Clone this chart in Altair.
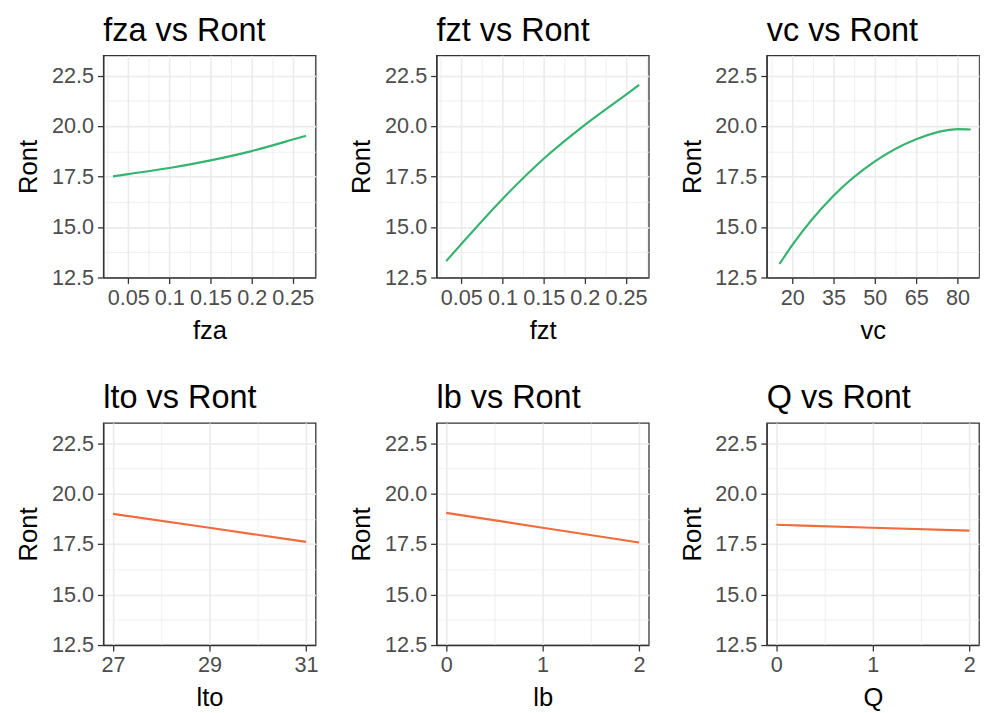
import altair as alt
import pandas as pd

FONT = "Liberation Sans"
GREEN = "#35B36F"
ORANGE = "#F26B3A"

# shared y axis
y_domain = [12.5, 23.5]
y_major = [12.5, 15.0, 17.5, 20.0, 22.5]
y_minor = [13.75, 16.25, 18.75, 21.25]

# panel data
fza_x = [0.0315, 0.05, 0.1, 0.15, 0.2, 0.25, 0.266]
fza_y = [17.51, 17.62, 17.92, 18.30, 18.76, 19.33, 19.52]
fzt_x = [0.0315, 0.05, 0.1, 0.15, 0.2, 0.25, 0.266]
fzt_y = [13.31, 14.16, 16.39, 18.38, 20.06, 21.56, 22.04]
vc_x = [15.4, 20, 35, 50, 65, 80, 84.8]
vc_y = [13.17, 14.10, 16.55, 18.25, 19.35, 19.85, 19.83]
lto_x = [27, 29, 31]
lto_y = [19.00, 18.31, 17.61]
lb_x = [0, 1, 2]
lb_y = [19.05, 18.31, 17.58]
q_x = [0, 1, 2]
q_y = [18.46, 18.31, 18.17]

panels = [
    ("fza", fza_x, fza_y, GREEN, [0.0198, 0.2777], [0.05, 0.1, 0.15, 0.2, 0.25],
     [0.025, 0.075, 0.125, 0.175, 0.225, 0.275], "~g"),
    ("fzt", fzt_x, fzt_y, GREEN, [0.0198, 0.2777], [0.05, 0.1, 0.15, 0.2, 0.25],
     [0.025, 0.075, 0.125, 0.175, 0.225, 0.275], "~g"),
    ("vc", vc_x, vc_y, GREEN, [10.75, 87.8], [20, 35, 50, 65, 80],
     [12.5, 27.5, 42.5, 57.5, 72.5, 87.5], "~g"),
    ("lto", lto_x, lto_y, ORANGE, [26.8, 31.2], [27, 29, 31], [28, 30], "~g"),
    ("lb", lb_x, lb_y, ORANGE, [-0.1, 2.1], [0, 1, 2], [0.5, 1.5], "~g"),
    ("Q", q_x, q_y, ORANGE, [-0.1, 2.1], [0, 1, 2], [0.5, 1.5], "~g"),
]


def make_axis(title, major, minor, fmt):
    vals = sorted(major + minor)
    minor_js = "[" + ",".join(repr(float(v)) for v in minor) + "]"
    is_minor = f"indexof({minor_js}, datum.value) >= 0"
    return alt.Axis(
        title=title,
        values=vals,
        labelExpr=f"{is_minor} ? '' : format(datum.value, '{fmt}')",
        labelOverlap=False,
        labelFlush=False,
        labelFont=FONT,
        labelFontSize=22,
        labelColor="#4D4D4D",
        labelPadding=4,
        titleFont=FONT,
        titleFontSize=26,
        titleFontWeight="normal",
        titleColor="#000000",
        titlePadding=10,
        grid=True,
        gridColor="#EBEBEB",
        gridWidth={"condition": {"test": is_minor, "value": 0.8}, "value": 1.6},
        tickColor="#333333",
        tickWidth=1.3,
        tickSize=6,
        tickOpacity={"condition": {"test": is_minor, "value": 0}, "value": 1},
        domain=True,
        domainColor="#333333",
        domainWidth=1.3,
    )


charts = []
for name, xs, ys, color, xdom, xmaj, xmin, fmt in panels:
    df = pd.DataFrame({"x": xs, "y": ys})
    c = (
        alt.Chart(df)
        .mark_line(color=color, strokeWidth=2.2, interpolate="monotone", clip=True)
        .encode(
            x=alt.X("x:Q", scale=alt.Scale(domain=xdom, nice=False, zero=False),
                    axis=make_axis(name, xmaj, xmin, fmt)),
            y=alt.Y("y:Q", scale=alt.Scale(domain=y_domain, nice=False, zero=False),
                    axis=make_axis("Ront", y_major, y_minor, ".1f")),
        )
        .properties(
            width=216,
            height=226,
            view=alt.ViewBackground(stroke="#333333", strokeWidth=1.3, fill="white"),
            title=alt.TitleParams(
                text=f"{name} vs Ront",
                anchor="start",
                frame="group",
                font=FONT,
                fontSize=33,
                fontWeight="normal",
                color="#000000",
                offset=8,
            ),
        )
    )
    charts.append(c)

chart = (
    alt.concat(*charts, columns=3, spacing={"row": 38, "column": 29})
    .properties(padding={"left": 7, "top": 0, "right": 0, "bottom": 0})
    .configure_view(stroke="#333333", strokeWidth=1.3)
    .configure(background="white")
)

chart.save("out.html", embed_options={"renderer": "svg", "actions": False})
